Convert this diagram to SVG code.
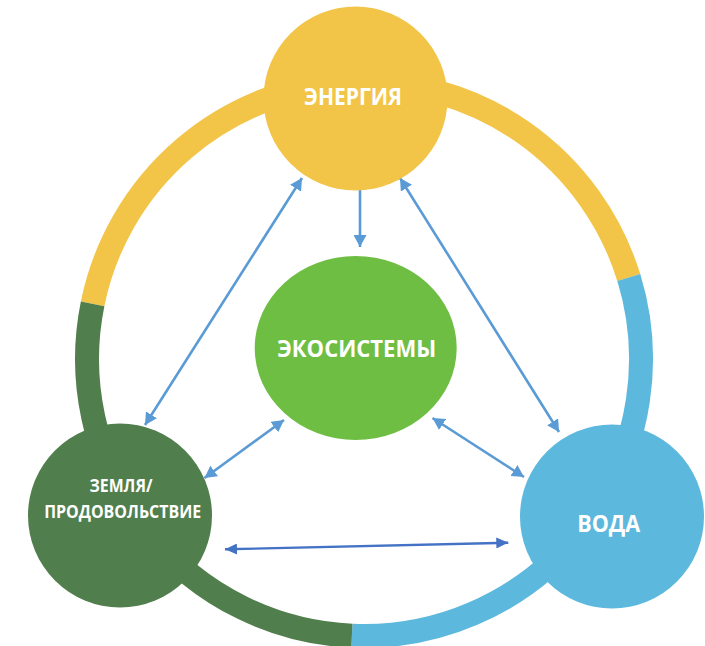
<svg xmlns="http://www.w3.org/2000/svg" width="705" height="646" viewBox="0 0 705 646">
  <style>
    .ring { fill: none; stroke-width: 24; stroke-linecap: butt; }
    .lbl { fill: #FFFFFF; font-family: "Open Sans", "Liberation Sans", sans-serif; font-weight: bold; text-anchor: middle; }
    .arr { stroke: #5B9BD5; stroke-width: 2.6; fill: none; }
    .arr2 { stroke: #4472C4; stroke-width: 2.4; fill: none; }
  </style>
  <defs>
    <marker id="ah" markerUnits="userSpaceOnUse" markerWidth="13" markerHeight="13" refX="12" refY="6.5" orient="auto-start-reverse">
      <path d="M0,0 L12,6.5 L0,13 z" fill="#5B9BD5"/>
    </marker>
    <marker id="ah2" markerUnits="userSpaceOnUse" markerWidth="12" markerHeight="11" refX="12" refY="5.5" orient="auto-start-reverse">
      <path d="M0,0 L12,5.5 L0,11 z" fill="#4472C4"/>
    </marker>
  </defs>
  <rect width="705" height="646" fill="#FFFFFF"/>

  <g id="ring">
    <path class="ring" stroke="#F2C548" d="M 92.6 303.8 A 277 277 0 0 1 628.8 277.6"/>
    <path class="ring" stroke="#5DB8DE" d="M 628.8 277.6 A 277 277 0 0 1 351.9 635.7"/>
    <path class="ring" stroke="#507E4C" d="M 351.9 635.7 A 277 277 0 0 1 92.6 303.8"/>
  </g>

  <g id="connectors">
    <line class="arr" x1="360" y1="190" x2="360" y2="247" marker-end="url(#ah)"/>
    <line class="arr" x1="302" y1="178" x2="145" y2="425" marker-start="url(#ah)" marker-end="url(#ah)"/>
    <line class="arr" x1="400" y1="178" x2="559" y2="432" marker-start="url(#ah)" marker-end="url(#ah)"/>
    <line class="arr" x1="284" y1="420" x2="204.5" y2="478" marker-start="url(#ah)" marker-end="url(#ah)"/>
    <line class="arr" x1="432.5" y1="418" x2="524" y2="477" marker-start="url(#ah)" marker-end="url(#ah)"/>
    <line class="arr2" x1="225" y1="549.3" x2="508.3" y2="542.7" marker-start="url(#ah2)" marker-end="url(#ah2)"/>
  </g>

  <g id="energy">
    <circle cx="355.5" cy="98.5" r="92" fill="#F2C548"/>
    <text class="lbl" x="353" y="105" font-size="23.5" textLength="98" lengthAdjust="spacingAndGlyphs">ЭНЕРГИЯ</text>
  </g>
  <g id="ecosystems">
    <ellipse cx="355.7" cy="348" rx="101" ry="92" fill="#6FBE44"/>
    <text class="lbl" x="356.7" y="356.7" font-size="23" textLength="159" lengthAdjust="spacingAndGlyphs">ЭКОСИСТЕМЫ</text>
  </g>
  <g id="land">
    <circle cx="120" cy="515.5" r="92" fill="#507E4C"/>
    <text class="lbl" x="121" y="492" font-size="18" textLength="63" lengthAdjust="spacingAndGlyphs">ЗЕМЛЯ/</text>
    <text class="lbl" x="122.7" y="518" font-size="18" textLength="157" lengthAdjust="spacingAndGlyphs">ПРОДОВОЛЬСТВИЕ</text>
  </g>
  <g id="water">
    <circle cx="612" cy="516.5" r="92" fill="#5DB8DE"/>
    <text class="lbl" x="608.7" y="532" font-size="24" textLength="63" lengthAdjust="spacingAndGlyphs">ВОДА</text>
  </g>
</svg>
